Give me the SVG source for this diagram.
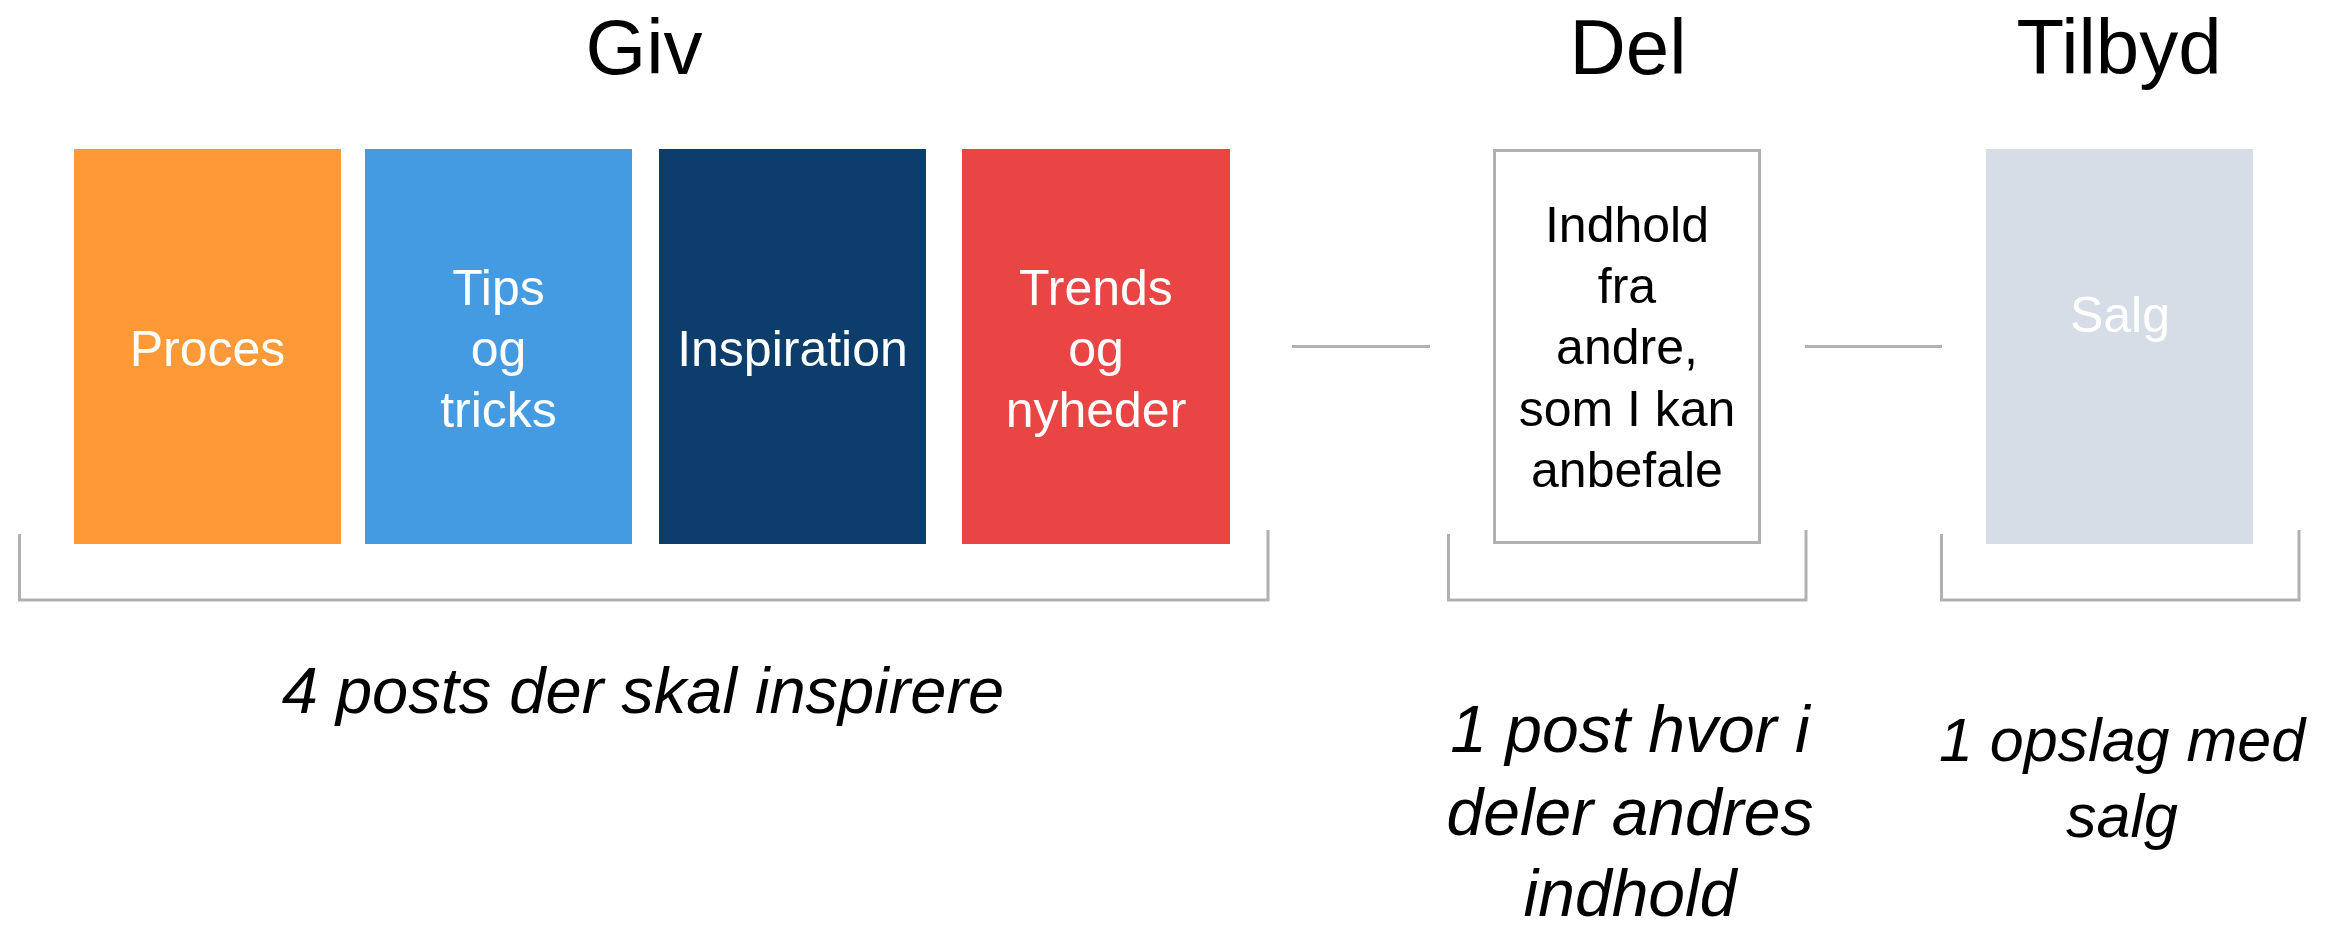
<svg xmlns="http://www.w3.org/2000/svg" width="2339" height="929" viewBox="0 0 2339 929">
  <style>
    .title { font-family: "Liberation Sans", Arial, sans-serif; font-size: 78px; fill: #000; text-anchor: middle; }
    .lbl { font-family: "Liberation Sans", Arial, sans-serif; font-size: 50px; text-anchor: middle; }
    .w { fill: #fff; }
    .k { fill: #000; }
    .cap { font-family: "Liberation Sans", Arial, sans-serif; font-style: italic; fill: #000; text-anchor: middle; }
    .gray { fill: none; stroke: #b1b1b1; stroke-width: 3; }
  </style>
  <rect width="2339" height="929" fill="#fff"/>

  <g id="titles">
    <text class="title" x="644" y="74">Giv</text>
    <text class="title" x="1628" y="74">Del</text>
    <text class="title" x="2119" y="74">Tilbyd</text>
  </g>

  <g id="proces">
    <rect x="74" y="149" width="267" height="395" fill="#FD9A37"/>
    <text class="lbl w" x="207.5" y="366">Proces</text>
  </g>
  <g id="tips">
    <rect x="365" y="149" width="267" height="395" fill="#459BE1"/>
    <text class="lbl w" x="498.5" y="305">Tips</text>
    <text class="lbl w" x="498.5" y="366">og</text>
    <text class="lbl w" x="498.5" y="427">tricks</text>
  </g>
  <g id="inspiration">
    <rect x="659" y="149" width="267" height="395" fill="#0D3E6B"/>
    <text class="lbl w" x="792.5" y="366">Inspiration</text>
  </g>
  <g id="trends">
    <rect x="962" y="149" width="268" height="395" fill="#E84544"/>
    <text class="lbl w" x="1096" y="305">Trends</text>
    <text class="lbl w" x="1096" y="366">og</text>
    <text class="lbl w" x="1096" y="427">nyheder</text>
  </g>
  <g id="indhold">
    <rect x="1494.5" y="150.5" width="265" height="392" fill="#fff" class="gray"/>
    <text class="lbl k" x="1627" y="242">Indhold</text>
    <text class="lbl k" x="1627" y="303">fra</text>
    <text class="lbl k" x="1627" y="364">andre,</text>
    <text class="lbl k" x="1627" y="426">som I kan</text>
    <text class="lbl k" x="1627" y="487">anbefale</text>
  </g>
  <g id="salg">
    <rect x="1986" y="149" width="267" height="395" fill="#D6DDE6"/>
    <text class="lbl w" x="2120" y="332">Salg</text>
  </g>

  <g id="connectors">
    <line class="gray" x1="1292" y1="346.5" x2="1430" y2="346.5"/>
    <line class="gray" x1="1805" y1="346.5" x2="1942" y2="346.5"/>
  </g>

  <g id="brackets">
    <path class="gray" d="M19.5 534 V600 H1268 V530"/>
    <path class="gray" d="M1448.5 534 V600 H1806 V530"/>
    <path class="gray" d="M1941.5 534 V600 H2299 V530"/>
  </g>

  <g id="captions">
    <text class="cap" x="643" y="713" font-size="65">4 posts der skal inspirere</text>
    <text class="cap" x="1630" y="752" font-size="66">1 post hvor i</text>
    <text class="cap" x="1630" y="835" font-size="66">deler andres</text>
    <text class="cap" x="1630" y="916" font-size="66">indhold</text>
    <text class="cap" x="2122" y="761" font-size="61">1 opslag med</text>
    <text class="cap" x="2122" y="837" font-size="61">salg</text>
  </g>
</svg>
